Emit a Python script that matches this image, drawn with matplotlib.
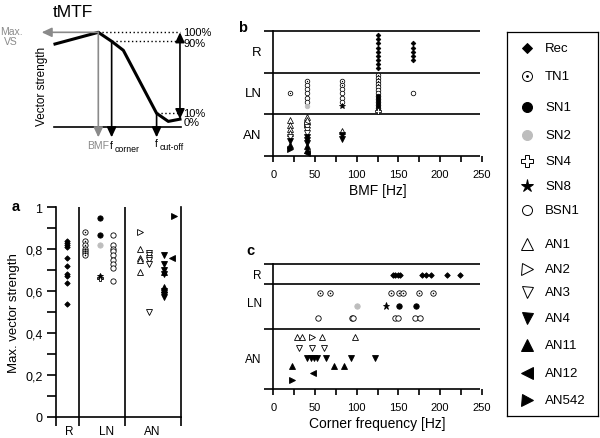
import matplotlib
matplotlib.use("Agg")
import matplotlib.pyplot as plt
from matplotlib.ticker import MultipleLocator, FixedLocator, FuncFormatter, NullFormatter

plt.rcParams['font.family'] = ['Liberation Sans', 'DejaVu Sans']

# ---------------- data ----------------
# schematic tMTF curve (illustrative)
sch_freq = [0.0, 0.341, 0.446, 0.538, 0.80, 0.892, 0.984]
sch_vs = [87, 100, 90, 80, 10, 1, 3.5]

# panel a: max vector strength per neuron type
a_values = {
    'Rec': [0.84, 0.83, 0.82, 0.81, 0.76, 0.72, 0.68, 0.67, 0.64, 0.54],
    'TN1': [0.88, 0.84, 0.82, 0.80, 0.79, 0.78, 0.77],
    'SN1': [0.95, 0.87],
    'SN2': [0.82],
    'SN4': [0.66],
    'SN8': [0.67],
    'BSN1': [0.87, 0.82, 0.80, 0.79, 0.77, 0.75, 0.73, 0.71, 0.65],
    'AN1': [0.80, 0.76, 0.75, 0.69],
    'AN2': [0.88],
    'AN3': [0.78, 0.77, 0.76, 0.75, 0.73, 0.50],
    'AN4': [0.77, 0.73, 0.70, 0.68, 0.60, 0.58, 0.57],
    'AN11': [0.69, 0.62, 0.61],
    'AN12': [0.76],
    'AN542': [0.96],
}
a_groups = ['R', 'LN', 'AN']

# panel b: BMF [Hz] per group / type
b_R = {'Rec': [125, 125, 125, 125, 125, 125, 125, 125, 125, 167, 167, 167, 167, 167]}
b_LN = {'TN1': [20, 40, 83, 83, 125, 125, 125, 125],
        'BSN1': [40, 40, 40, 40, 40, 83, 83, 83, 83, 125, 125, 125, 167],
        'SN2': [40], 'SN8': [83], 'SN1': [125, 125, 125, 125, 125], 'SN4': [125]}
b_AN = {'AN1': [20, 20, 20, 20, 40, 40, 83], 'AN2': [40], 'AN3': [20, 40, 40, 40],
        'AN4': [20, 40, 40, 40, 83, 83], 'AN11': [20, 40, 40], 'AN12': [40], 'AN542': [20]}

# panel c: corner frequency [Hz]
c_values = {
    'Rec': [143, 146, 149, 152, 178, 183, 189, 208, 224],
    'TN1': [56, 68, 141, 151, 155, 175, 192],
    'SN2': [101], 'SN8': [135], 'SN1': [151, 171],
    'BSN1': [54, 94, 96, 146, 150, 170, 176],
    'AN1': [28, 34, 59, 98], 'AN2': [47],
    'AN3': [31, 47, 61],
    'AN4': [41, 45, 49, 53, 63, 93, 122],
    'AN11': [23, 73, 85], 'AN12': [48], 'AN542': [22],
}

legend_names = ['Rec', 'TN1', 'SN1', 'SN2', 'SN4', 'SN8', 'BSN1',
                'AN1', 'AN2', 'AN3', 'AN4', 'AN11', 'AN12', 'AN542']

# ---------------- styles / layout ----------------
GREY = '#bdbdbd'
STYLE = {
    'Rec': ('D', 'k', 'k'), 'TN1': ('o', 'white', 'k'), 'SN1': ('o', 'k', 'k'),
    'SN2': ('o', GREY, GREY), 'SN4': ('P', 'white', 'k'), 'SN8': ('*', 'k', 'k'),
    'BSN1': ('o', 'white', 'k'), 'AN1': ('^', 'white', 'k'), 'AN2': ('>', 'white', 'k'),
    'AN3': ('v', 'white', 'k'), 'AN4': ('v', 'k', 'k'), 'AN11': ('^', 'k', 'k'),
    'AN12': ('<', 'k', 'k'), 'AN542': ('>', 'k', 'k'),
}
REL = {'D': 0.72, 'o': 1.0, '^': 1.1, 'v': 1.1, '<': 1.1, '>': 1.1, '*': 1.3, 'P': 1.1}

W, H = 600, 439
fig = plt.figure(figsize=(6, 4.39), dpi=100)


def px_axes(x0, y0, x1, y1):
    return fig.add_axes([x0 / W, 1 - y1 / H, (x1 - x0) / W, (y1 - y0) / H])


def draw(ax, x, y, name, ms, lw=0.6):
    m, fc, ec = STYLE[name]
    ax.plot(x, y, ls='none', marker=m, ms=ms * REL[m], mfc=fc, mec=ec, mew=lw,
            clip_on=False, zorder=3)
    if name == 'TN1':
        ax.plot(x, y, ls='none', marker='o', ms=ms * 0.28, mfc='k', mec='k', mew=0,
                clip_on=False, zorder=4)


LW = 1.2

# ---------------- schematic ----------------
axs = px_axes(55, 20, 182, 128.3)
axs.set_xlim(0, 1)
axs.set_ylim(-5.56, 114.8)
axs.axis('off')
axs.plot(sch_freq, sch_vs, color='k', lw=2.2, clip_on=False, zorder=3)
axs.plot([-0.005, 0.992], [-5.56, -5.56], color='k', lw=1.2, clip_on=False)
f_bmf, f_corner, f_cut, f_end = sch_freq[1], sch_freq[2], sch_freq[4], sch_freq[-1]
for fx, lev in [(f_bmf, 100), (f_corner, 90), (f_cut, 10)]:
    axs.plot([fx, f_end], [lev, lev], color='k', lw=1.0, ls=(0, (1, 1.8)), clip_on=False)
arrow = dict(arrowstyle='-|>,head_length=0.6,head_width=0.28', lw=1.2,
             shrinkA=0, shrinkB=0, mutation_scale=10)
axs.annotate('', xy=(f_bmf, -16.7), xytext=(f_bmf, 100),
             arrowprops=dict(arrow, color='#8a8a8a'), annotation_clip=False)
axs.annotate('', xy=(-0.105, 100), xytext=(f_bmf, 100),
             arrowprops=dict(arrow, color='#8a8a8a'), annotation_clip=False)
axs.annotate('', xy=(f_corner, -16.7), xytext=(f_corner, 90),
             arrowprops=dict(arrow, color='k'), annotation_clip=False)
axs.annotate('', xy=(f_cut, -16.7), xytext=(f_cut, 10),
             arrowprops=dict(arrow, color='k'), annotation_clip=False)
axs.annotate('', xy=(f_end, 3.5), xytext=(f_end, 100),
             arrowprops=dict(arrow, arrowstyle='<|-|>,head_length=0.6,head_width=0.28', color='k'),
             annotation_clip=False)
for lab, yy in [('100%', 100), ('90%', 88), ('10%', 10), ('0%', 0)]:
    axs.text(1.01, yy, lab, fontsize=8, ha='left', va='center', clip_on=False)
axs.text(-0.345, 96, 'Max.\nVS', fontsize=7.5, color='#8a8a8a', ha='center', va='center',
         linespacing=0.95)
axs.text(-0.105, 41, 'Vector strength', fontsize=8.5, rotation=90, ha='center', va='center')
axs.text(0.14, 123, 'tMTF', fontsize=12.5, ha='center', va='center')
axs.text(f_bmf, -25.5, 'BMF', fontsize=7.5, color='#8a8a8a', ha='center', va='center')
for fx, fy, sub in [(f_corner, -25.5, 'corner'), (f_cut, -23, 'cut-off')]:
    axs.text(fx - 0.01, fy, 'f', fontsize=7.5, ha='left', va='center')
    axs.annotate(sub, xy=(fx - 0.01, fy), xytext=(2.8, -2.2), textcoords='offset points',
                 fontsize=6.3, ha='left', va='center', annotation_clip=False)

# ---------------- panel a ----------------
a_col = {'Rec': 0.5, 'TN1': 1.28, 'SN1': 1.9, 'SN2': 1.9, 'SN4': 1.9, 'SN8': 1.9,
         'BSN1': 2.48, 'AN1': 3.63, 'AN2': 3.63, 'AN3': 4.03, 'AN4': 4.66,
         'AN11': 4.66, 'AN12': 5.0, 'AN542': 5.1}
a_bounds = [0, 1.0, 2.99, 5.4]
a_label_pos = [0.57, 2.2, 4.15]
axa = px_axes(55.7, 208.3, 181, 417.7)
axa.set_xlim(0, 5.4)
axa.set_ylim(0, 1)
for name, vals in a_values.items():
    draw(axa, [a_col[name]] * len(vals), vals, name, ms=3.8)
for xb in a_bounds[1:-1]:
    axa.axvline(xb, color='k', lw=LW)
axa.spines['top'].set_visible(False)
for s in ['left', 'bottom', 'right']:
    axa.spines[s].set_linewidth(LW)
axa.xaxis.set_major_locator(FixedLocator(a_bounds))
axa.xaxis.set_major_formatter(NullFormatter())
axa.set_xticks(a_label_pos, a_groups, minor=True)
axa.tick_params(axis='x', which='major', direction='out', length=6.5, width=LW)
axa.tick_params(axis='x', which='minor', length=0, pad=6, labelsize=8.5)
axa.yaxis.set_major_locator(MultipleLocator(0.2))
axa.yaxis.set_minor_locator(MultipleLocator(0.1))
axa.yaxis.set_major_formatter(FuncFormatter(
    lambda v, p: '0' if abs(v) < 1e-9 else ('1' if abs(v - 1) < 1e-9 else f'{v:.1f}'.replace('.', ','))))
axa.tick_params(axis='y', which='both', direction='out', length=6.5, width=LW, labelsize=9, pad=3)
axa.set_ylabel('Max. vector strength', fontsize=9.5, labelpad=4)
fig.text(16 / W, 1 - 207 / H, 'a', fontsize=10.5, fontweight='bold', ha='center', va='center')


# ---------------- band panels ----------------
def setup_band_axes(ax, bounds, labels, label_y, label_fs, xlabel):
    ax.set_xlim(0, 250)
    ax.set_ylim(bounds[0], bounds[-1])
    for s in ['top', 'right', 'bottom']:
        ax.spines[s].set_visible(False)
    ax.spines['left'].set_linewidth(LW)
    for yb in bounds:
        ax.plot([-0.045, 0.99], [yb, yb], transform=ax.get_yaxis_transform(), color='k',
                lw=LW, clip_on=False, solid_capstyle='butt')
    ax.set_yticks([])
    ax.xaxis.set_major_locator(MultipleLocator(50))
    ax.xaxis.set_minor_locator(MultipleLocator(25))
    ax.tick_params(axis='x', which='both', direction='out', length=4.5, width=LW)
    ax.tick_params(axis='x', which='major', labelsize=8, pad=5)
    ax.set_xlabel(xlabel, fontsize=10, labelpad=3)
    for lab, yy in zip(labels, label_y):
        ax.text(-0.055, yy, lab, transform=ax.get_yaxis_transform(), ha='right', va='center',
                fontsize=label_fs)


# panel b
axb = px_axes(273.3, 32, 481.7, 156.7)
setup_band_axes(axb, [0, 1, 2, 3], ['R', 'LN', 'AN'], [2.5, 1.5, 0.5], 9.5, 'BMF [Hz]')
for group, center in [(b_R, 2.5), (b_LN, 1.5), (b_AN, 0.5)]:
    freqs = sorted({f for vals in group.values() for f in vals})
    for f in freqs:
        stack = [name for name, vals in group.items() for v in vals if v == f]
        n = len(stack)
        step = 0.1 if n < 2 else min(0.1, 0.86 / (n - 1))
        for i, name in enumerate(stack):
            draw(axb, [f], [center + (n - 1) / 2 * step - i * step], name, ms=3.3, lw=0.55)
fig.text(243 / W, 1 - 28 / H, 'b', fontsize=10.5, fontweight='bold', ha='center', va='center')

# panel c
c_row = {'Rec': 114, 'TN1': 95.7, 'SN1': 83.3, 'SN2': 83.3, 'SN8': 83.3, 'BSN1': 70.7,
         'AN1': 52.3, 'AN2': 52.3, 'AN3': 41, 'AN4': 31.3, 'AN11': 22.7, 'AN12': 15.7,
         'AN542': 9.3}
axc = px_axes(273.3, 265, 481.7, 390)
setup_band_axes(axc, [0, 60, 104.7, 125], ['R', 'LN', 'AN'], [114, 85.7, 30], 8.5,
                'Corner frequency [Hz]')
for name, vals in c_values.items():
    draw(axc, vals, [c_row[name]] * len(vals), name, ms=3.9, lw=0.6)
fig.text(250 / W, 1 - 251 / H, 'c', fontsize=10.5, fontweight='bold', ha='center', va='center')

# ---------------- legend ----------------
leg_y = [49.3, 77.3, 108.3, 135.7, 161.7, 186.7, 211, 245, 270, 292.7, 319.3, 346, 374, 401]
axl = px_axes(507, 33, 598, 417)
axl.set_xlim(507, 598)
axl.set_ylim(417, 33)
axl.set_xticks([])
axl.set_yticks([])
for s in axl.spines.values():
    s.set_linewidth(0.9)
for name, yy in zip(legend_names, leg_y):
    draw(axl, [527], [yy], name, ms=7.2, lw=0.7)
    axl.text(545, yy, name, fontsize=9.5, ha='left', va='center')

fig.savefig('out.png', dpi=100)
